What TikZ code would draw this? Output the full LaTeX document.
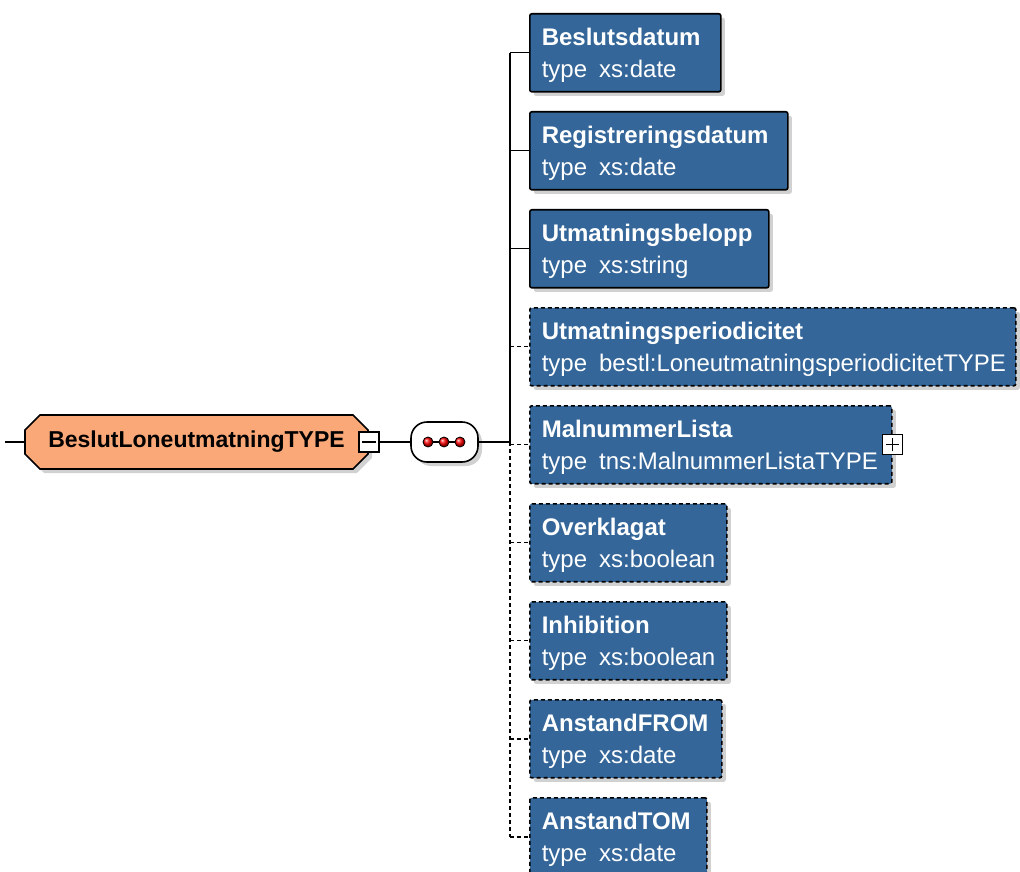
\documentclass[tikz,border=0pt]{standalone}
\usepackage{fontspec}
\setmainfont{Liberation Sans}
\usetikzlibrary{shapes.misc,shadows}

\definecolor{elemblue}{RGB}{52,102,153}
\definecolor{typeorange}{RGB}{250,168,120}

\tikzset{
	softshadow/.style={drop shadow={shadow xshift=2pt, shadow yshift=-2pt, fill=black!30, opacity=0.6}},
	elem/.style={draw, line width=0.8pt, fill=elemblue, text=white, rounded corners=1pt,
		anchor=north west, align=left, text width=#1, inner xsep=6pt, inner ysep=4.5pt,
		font=\fontsize{12}{16}\selectfont, execute at begin node={\rule{0pt}{11.5pt}}, softshadow},
	optelem/.style={elem=#1, dash pattern=on 2pt off 1.5pt},
	optline/.style={dash pattern=on 2pt off 1.5pt},
	togglebox/.style={draw, fill=white, line width=0.6pt, minimum size=10pt, inner sep=0pt},
	seqdot/.style={circle, draw, line width=0.4pt, shading=ball, ball color=red, minimum size=5pt, inner sep=0pt}
}

\begin{document}
\begin{tikzpicture}[x=0.5pt, y=-0.5pt, line width=0.7pt]
		\useasboundingbox (0,0) rectangle (1020,871);
		\clip (0,0) rectangle (1020,871);
		
		% Complex type
		\node[draw, line width=0.8pt, fill=typeorange, chamfered rectangle, chamfered rectangle xsep=4pt,
			minimum width=171.5pt, minimum height=27pt, inner sep=0pt, font=\fontsize{11.5}{14}\selectfont\bfseries,
			softshadow] (root) at (196.5,442) {BeslutLoneutmatningTYPE};
		\coordinate (start) at (5,442);
		\node[togglebox] (minus) at (369,442) {};
		\draw ([xshift=2pt]minus.west) -- ([xshift=-2pt]minus.east);
		
		% Sequence
		\node[draw, line width=0.8pt, fill=white, rounded corners=8pt, minimum width=33.5pt, minimum height=20pt,
			softshadow] (seq) at (444.5,442) {};
		\node[seqdot] (dotA) at (428,442) {};
		\node[seqdot] (dotB) at (444,442) {};
		\node[seqdot] (dotC) at (460,442) {};
		\draw (dotA) -- (dotB) -- (dotC);
		\coordinate (fork) at (510,442);
		
		% Elements
		\node[elem=83.5pt] (beslutsdatum) at (529,13) {\textbf{Beslutsdatum}\\type~\,xs:date};
		\node[elem=117pt] (registreringsdatum) at (529,111) {\textbf{Registreringsdatum}\\type~\,xs:date};
		\node[elem=107.5pt] (belopp) at (529,209) {\textbf{Utmatningsbelopp}\\type~\,xs:string};
		\node[optelem=231pt] (periodicitet) at (529,307) {\textbf{Utmatningsperiodicitet}\\type~\,bestl:LoneutmatningsperiodicitetTYPE};
		\node[optelem=169pt] (malnummer) at (529,405) {\textbf{MalnummerLista}\\type~\,tns:MalnummerListaTYPE};
		\node[optelem=86.5pt] (overklagat) at (529,503) {\textbf{Overklagat}\\type~\,xs:boolean};
		\node[optelem=86.5pt] (inhibition) at (529,601) {\textbf{Inhibition}\\type~\,xs:boolean};
		\node[optelem=84pt] (anstandfrom) at (529,699) {\textbf{AnstandFROM}\\type~\,xs:date};
		\node[optelem=76.5pt] (anstandtom) at (529,797) {\textbf{AnstandTOM}\\type~\,xs:date};
		\node[togglebox] (plus) at (malnummer.east) {};
		\draw ([xshift=2pt]plus.west) -- ([xshift=-2pt]plus.east);
		\draw ([yshift=2pt]plus.south) -- ([yshift=-2pt]plus.north);
		
		% Connectors
		\draw (start) -- (root.west);
		\draw (minus.east) -- (seq.west);
		\draw (seq.east) -- (fork);
		\draw (fork) -- (fork |- beslutsdatum.west);
		\draw[optline] (fork) -- (fork |- anstandtom.west);
		\draw (fork |- beslutsdatum.west) -- (beslutsdatum.west);
		\draw (fork |- registreringsdatum.west) -- (registreringsdatum.west);
		\draw (fork |- belopp.west) -- (belopp.west);
		\foreach \child in {periodicitet, malnummer, overklagat, inhibition, anstandfrom, anstandtom}
			\draw[optline] (fork |- \child.west) -- (\child.west);
	\end{tikzpicture}
\end{document}
